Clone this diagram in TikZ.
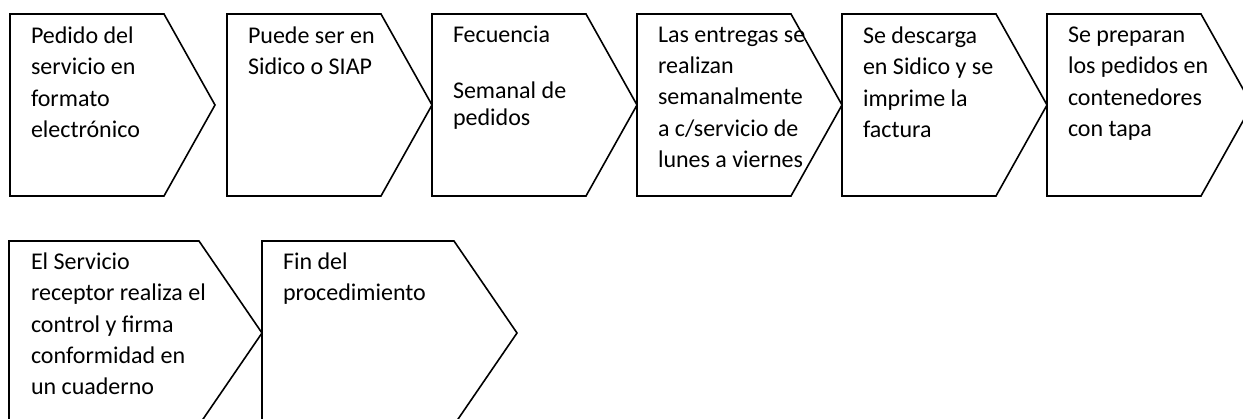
\documentclass[tikz,border=0pt]{standalone}
\usepackage{fontspec}
\setmainfont{Carlito}
\begin{document}
\begin{tikzpicture}[x=1pt,y=-1pt,
  chev/.style={draw=black, line width=1.6pt, line join=miter, fill=white},
  lbl/.style={anchor=north west, inner sep=0pt, outer sep=0pt, align=left,
    font=\fontsize{24}{31.3}\selectfont, execute at begin node={\rule{0pt}{20pt}}},
  lblt/.style={lbl, font=\fontsize{24}{27.8}\selectfont}]
\useasboundingbox (0,0) rectangle (1243,419);
\clip (0,0) rectangle (1243,419);
\newcommand\chevrowA[1]{%
  \draw[chev] (#1,14) -- (#1+154,14) -- (#1+205,105) -- (#1+154,196) -- (#1,196) -- cycle;}
\newcommand\chevrowB[2]{%
  \draw[chev] (#1,241) -- (#1+#2-63,241) -- (#1+#2,333) -- (#1+#2-63,425) -- (#1,425) -- cycle;}
% row 1
\chevrowA{10}
\chevrowA{227}
\chevrowA{432}
\chevrowA{637}
\chevrowA{842}
\chevrowA{1047}
% row 2
\chevrowB{9}{253}
\chevrowB{262}{255}
% texts (node placed 20pt above first baseline)
\node[lbl] (t1) at (31,27) {Pedido del\\servicio en\\formato\\electrónico};
\node[lbl] (t2) at (248,27) {Puede ser en\\Sidico o SIAP};
\node[lblt] (t3) at (453,26) {Fecuencia\\[27.8pt]Semanal de\\pedidos};
\node[lbl] (t4) at (658,27) {Las entregas se\\realizan\\semanalmente\\a c/servicio de\\lunes a viernes};
\node[lbl] (t5) at (863,27) {Se descarga\\en Sidico y se\\imprime la\\factura};
\node[lbl] (t6) at (1068,27) {Se preparan\\los pedidos en\\contenedores\\con tapa};
\node[lbl] (t7) at (31,253) {El Servicio\\receptor realiza el\\control y firma\\conformidad en\\un cuaderno};
\node[lbl] (t8) at (283,253) {Fin del\\procedimiento};
\end{tikzpicture}
\end{document}
